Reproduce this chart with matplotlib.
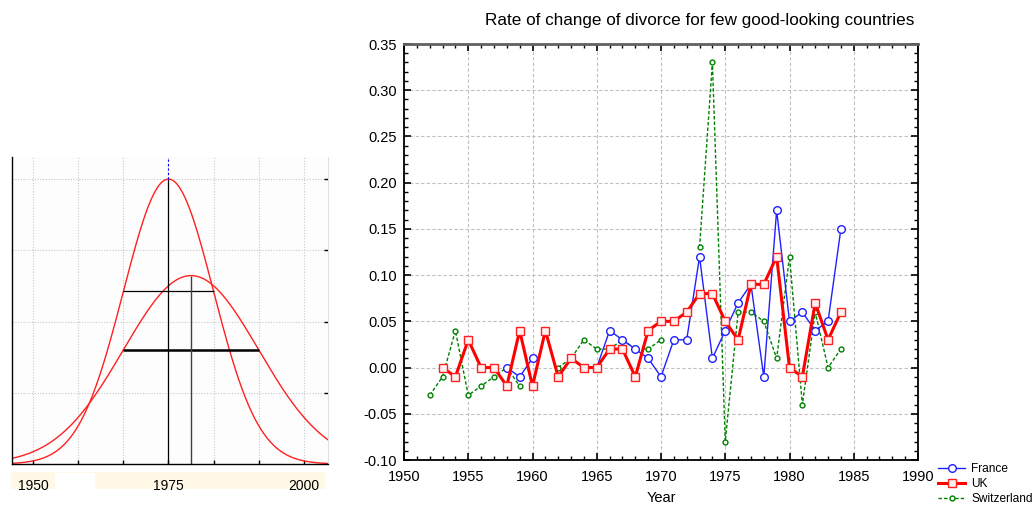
import numpy as np
import matplotlib
matplotlib.use("Agg")
import matplotlib.pyplot as plt
from matplotlib.ticker import MultipleLocator, FormatStrFormatter
from matplotlib.patches import Rectangle

plt.rcParams['font.family'] = ['Liberation Sans', 'DejaVu Sans']

# ---------------- data ----------------
years = list(range(1952, 1985))
nan = np.nan
france = [nan, nan, nan, nan, nan, nan, 0.00, -0.01, 0.01, nan, nan, nan, nan,
          0.00, 0.04, 0.03, 0.02, 0.01, -0.01, 0.03, 0.03, 0.12, 0.01, 0.04,
          0.07, 0.09, -0.01, 0.17, 0.05, 0.06, 0.04, 0.05, 0.15]
uk = [nan, 0.00, -0.01, 0.03, 0.00, 0.00, -0.02, 0.04, -0.02, 0.04, -0.01,
      0.01, 0.00, 0.00, 0.02, 0.02, -0.01, 0.04, 0.05, 0.05, 0.06, 0.08, 0.08,
      0.05, 0.03, 0.09, 0.09, 0.12, 0.00, -0.01, 0.07, 0.03, 0.06]
switzerland = [-0.03, -0.01, 0.04, -0.03, -0.02, -0.01, 0.00, -0.02, nan, nan,
               0.00, 0.01, 0.03, 0.02, 0.02, 0.03, 0.02, 0.02, 0.03, nan, nan,
               0.13, 0.33, -0.08, 0.06, 0.06, 0.05, 0.01, 0.12, -0.04, 0.06,
               0.00, 0.02]
series_names = ["France", "UK", "Switzerland"]
title = "Rate of change of divorce for few good-looking countries"

# left inset: two normal curves (mean, sd, peak height)
curve_means = [1975.0, 1979.17]
curve_sds = [8.33, 12.5]
curve_peaks = [4.0, 2.645]
inset_ticks = [1950, 1975, 2000]

W, H = 1034, 505
fig = plt.figure(figsize=(W / 100, H / 100), dpi=100)
fig.patch.set_facecolor("white")

def fx(px):
    return px / W

def fy(py):
    return 1 - py / H

# ---------------- left inset ----------------
axl = fig.add_axes([fx(11.7), fy(464), fx(328) - fx(11.7), fy(157) - fy(464)])
axl.set_facecolor("#fdfdfd")
xx = np.linspace(1946.0, 2004.5, 600)
for m, s, p in zip(curve_means, curve_sds, curve_peaks):
    axl.plot(xx, p * np.exp(-0.5 * ((xx - m) / s) ** 2), color="#ff2020", lw=1.0)
# sigma bars and mean lines
m1, s1, p1 = curve_means[0], curve_sds[0], curve_peaks[0]
m2, s2, p2 = curve_means[1], curve_sds[1], curve_peaks[1]
axl.hlines(p1 * np.exp(-0.5), m1 - s1, m1 + s1, color="black", lw=0.9)
axl.hlines(p2 * np.exp(-0.5), m2 - s2, m2 + s2, color="black", lw=1.8)
axl.vlines(m1, 0, p1, color="black", lw=0.9)
axl.vlines(m1, p1, 4.31, color="blue", lw=0.8, linestyles=(0, (2, 2)))
axl.vlines(m2, 0, p2, color="#404040", lw=1.0)
axl.set_xlim(1946.0, 2004.5)
axl.set_ylim(0, 4.31)
axl.set_xticks([1950 + k * 25 / 3 for k in range(7)], minor=True)
axl.set_xticks(inset_ticks)
axl.set_xticklabels([str(t) for t in inset_ticks], fontsize=10)
axl.set_yticks([1, 2, 3, 4])
axl.set_yticklabels([])
axl.grid(True, which="both", color="#c8c8c8", lw=0.8, ls=(0, (1, 1.5)))
axl.tick_params(axis="x", which="both", direction="in", length=3, width=1,
                pad=11, top=False)
axl.tick_params(axis="y", which="both", direction="in", length=3, width=1,
                left=False, right=True)
axl.spines["top"].set_visible(False)
axl.spines["right"].set_color("#e0e0e0")
for sp in ["left", "bottom"]:
    axl.spines[sp].set_color("black")
    axl.spines[sp].set_linewidth(1.0)
# label strip beneath inset
fig.patches.append(Rectangle((fx(11), fy(489)), fx(325) - fx(11), fy(471.7) - fy(489),
                             transform=fig.transFigure, facecolor="#fff8e6",
                             edgecolor="none", zorder=-1))
fig.patches.append(Rectangle((fx(55), fy(489)), fx(95) - fx(55), fy(473) - fy(489),
                             transform=fig.transFigure, facecolor="white",
                             edgecolor="none", zorder=-1))

# ---------------- main axes ----------------
ax = fig.add_axes([fx(404), fy(460), fx(918) - fx(404), fy(44) - fy(460)])
ax.plot(years, france, color="#2020ff", lw=1.0, marker="o", ms=5.5,
        mfc="white", mec="#2020ff", mew=1.0, label=series_names[0], zorder=3)
ax.plot(years, uk, color="#ff0000", lw=2.2, marker="s", ms=6,
        mfc="#fff0f0", mec="#ff2020", mew=1.0, label=series_names[1], zorder=4)
ax.plot(years, switzerland, color="#008000", lw=1.0, ls=(0, (2.5, 1.5)), marker="o",
        ms=3.5, mfc="white", mec="#008000", mew=1.0, label=series_names[2], zorder=2)

ax.set_xlim(1950, 1990)
ax.set_ylim(-0.10, 0.35)
ax.xaxis.set_major_locator(MultipleLocator(5))
ax.xaxis.set_minor_locator(MultipleLocator(1))
ax.yaxis.set_major_locator(MultipleLocator(0.05))
ax.yaxis.set_minor_locator(MultipleLocator(0.01))
ax.yaxis.set_major_formatter(FormatStrFormatter("%.2f"))
ax.grid(True, which="major", color="#c0c0c0", lw=0.8, ls=(0, (3, 2)))
ax.tick_params(which="both", direction="in", top=True, right=True,
               labelsize=10.5, colors="black")
ax.tick_params(which="major", length=5, width=1.2)
ax.tick_params(axis="x", which="major", pad=7)
ax.tick_params(axis="y", which="major", pad=5)
ax.tick_params(which="minor", length=3, width=1.0)
for sp in ["left", "bottom", "right"]:
    ax.spines[sp].set_color("black")
    ax.spines[sp].set_linewidth(1.3)
ax.spines["top"].set_color("#606060")
ax.spines["top"].set_linewidth(2.0)
ax.set_xlabel("Year", fontsize=10.5, labelpad=5)

fig.text(fx(700), fy(20), title, ha="center", va="center", fontsize=12.3)

leg = ax.legend(loc="upper left", frameon=False, fontsize=8.6,
                handlelength=2.3, handletextpad=0.5, labelspacing=0.25,
                borderaxespad=0, borderpad=0)
leg.set_bbox_to_anchor((fx(938), fy(463)), transform=fig.transFigure)

fig.savefig("out.png", dpi=100)
